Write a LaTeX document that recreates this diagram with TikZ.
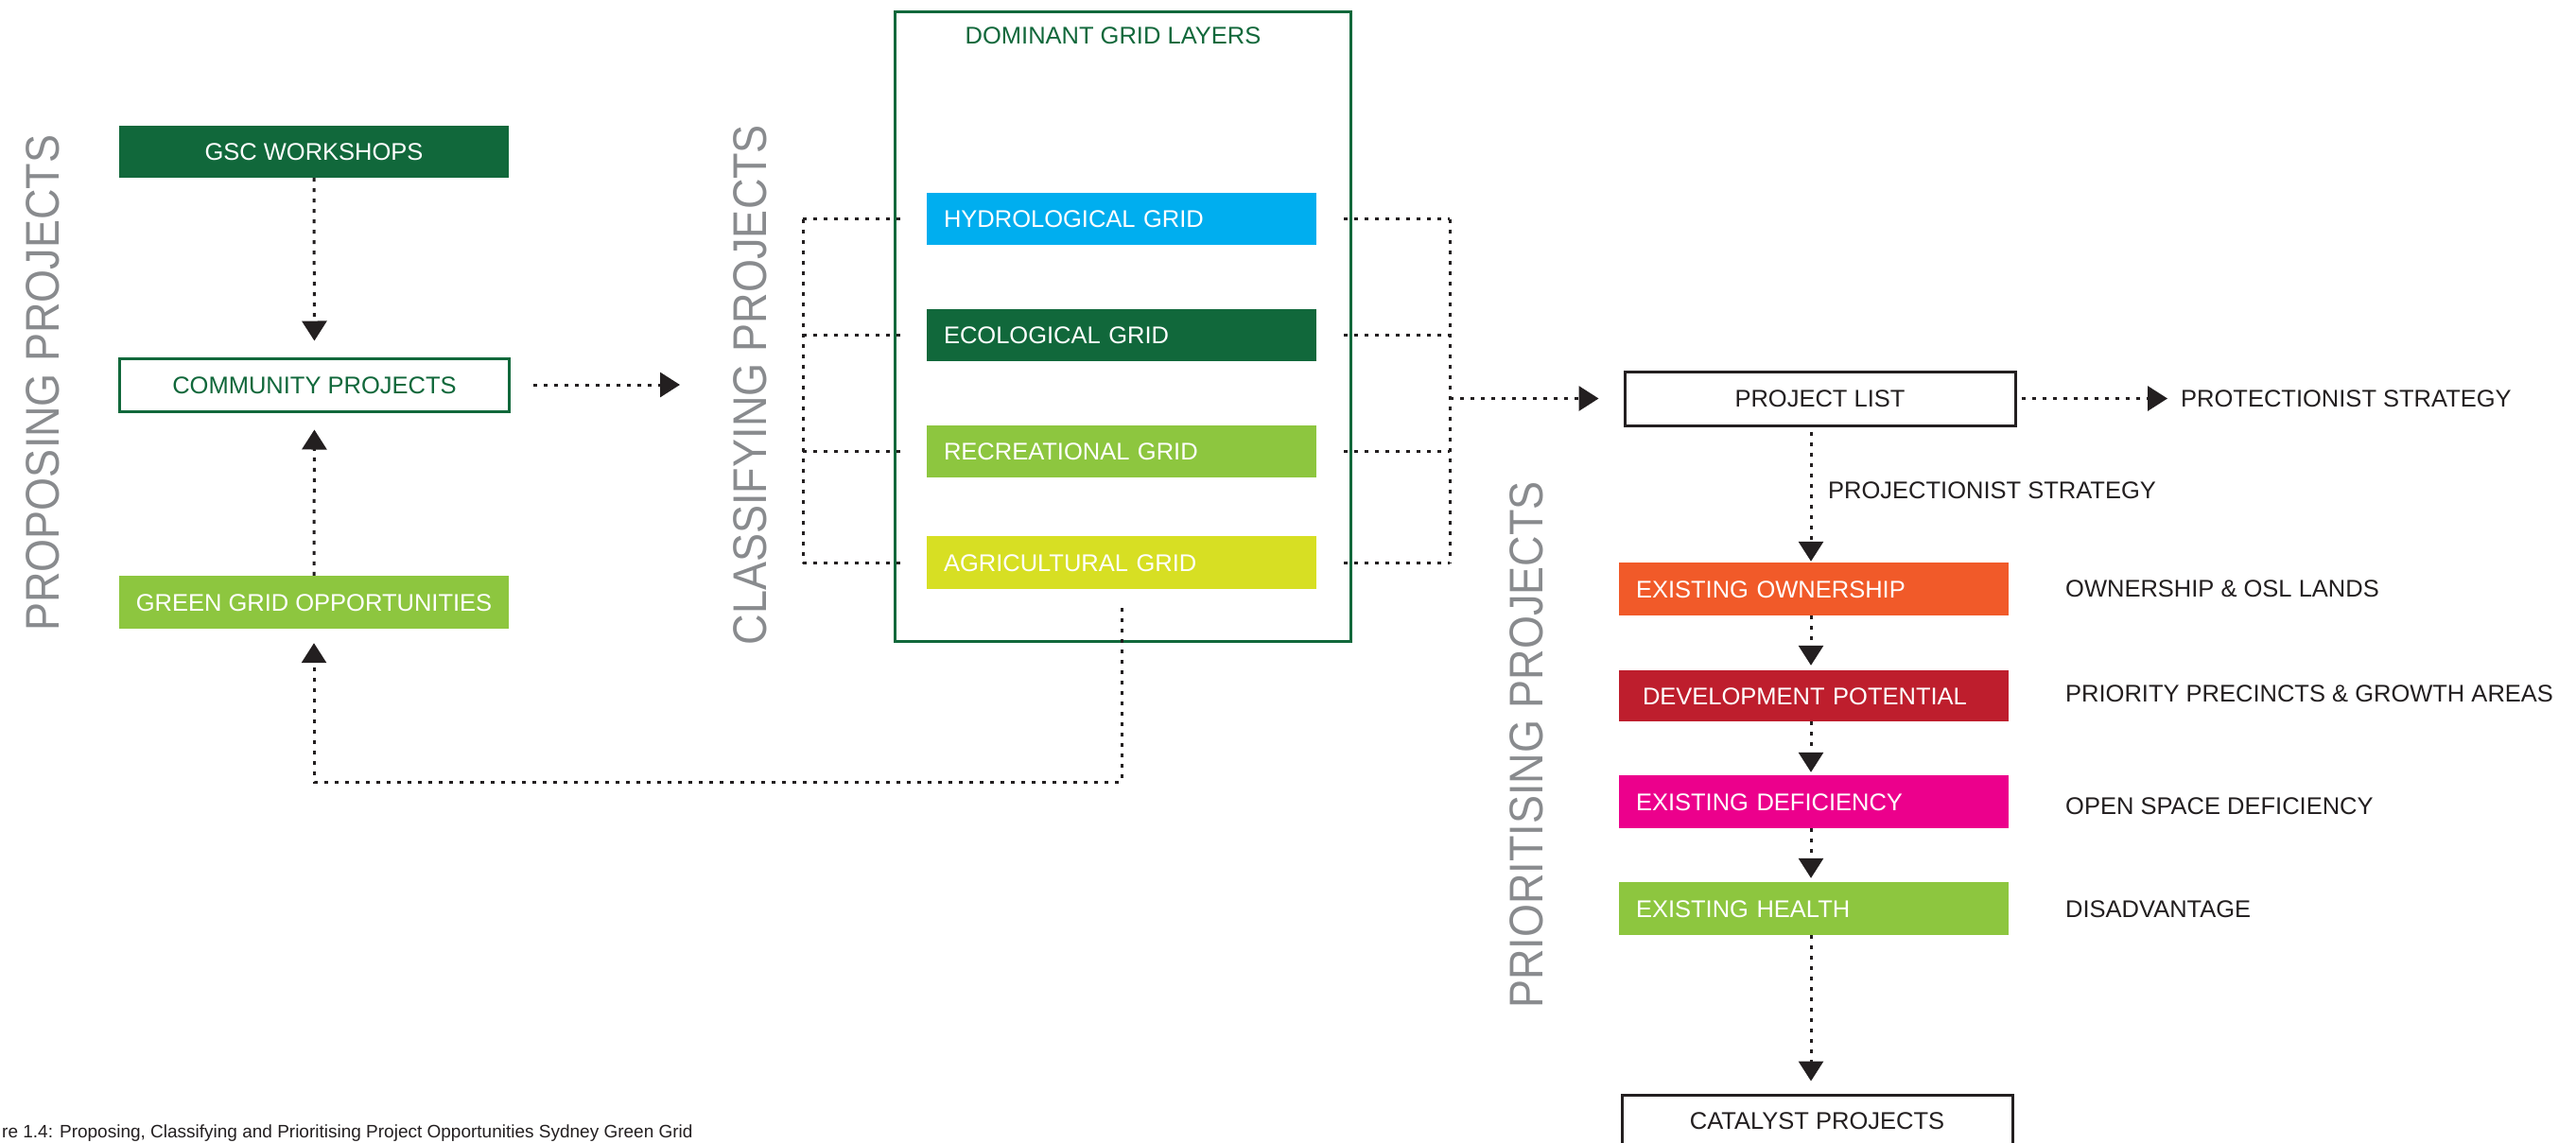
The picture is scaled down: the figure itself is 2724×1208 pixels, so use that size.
\documentclass[tikz,border=0pt]{standalone}
\usepackage{fontspec}
\setmainfont{Liberation Sans}
\newfontfamily\titlefont[FakeStretch=0.9]{Liberation Sans}
\usetikzlibrary{arrows.meta,calc}
\definecolor{dkgreen}{HTML}{11683B}
\definecolor{ltgreen}{HTML}{8DC63F}
\definecolor{hblue}{HTML}{00AEEF}
\definecolor{ygreen}{HTML}{D7DF23}
\definecolor{orng}{HTML}{F15A29}
\definecolor{dred}{HTML}{BE1E2D}
\definecolor{mgnt}{HTML}{EC008C}
\definecolor{titlegray}{HTML}{898B8E}
\definecolor{ink}{HTML}{231F20}
\tikzset{
  lbl/.style={font=\fontsize{25.5}{30}\selectfont, inner sep=0pt, text height=18.3pt, text depth=0pt},
  bar/.style={lbl, minimum height=55pt, text width=376pt, inner xsep=18pt, align=left, text=white},
  cbox/.style={lbl, minimum width=412pt, minimum height=55pt, align=center},
  vtitle/.style={rotate=90, font=\titlefont\fontsize{50}{56}\selectfont, text=titlegray, inner sep=0pt, text height=35.8pt, text depth=0pt},
  dots/.style={draw=ink, line width=3pt, dash pattern=on 4pt off 7pt},
  arr/.style={dots, -{Triangle[length=21pt,width=26pt]}, ink},
  desc/.style={lbl, anchor=west, text=ink}
}
\begin{document}
\begin{tikzpicture}[x=1pt,y=-1pt]
\useasboundingbox (0,0) rectangle (2724,1208);
\fill[white] (0,0) rectangle (2724,1208);

% section titles
\node[vtitle] (t1) at (45,405) {PROPOSING PROJECTS};
\node[vtitle] (t2) at (793,407) {CLASSIFYING PROJECTS};
\node[vtitle] (t3) at (1614,788) {PRIORITISING PROJECTS};

% proposing column
\node[cbox, fill=dkgreen, text=white] (gsc) at (332,160.5) {GSC WORKSHOPS};
\node[cbox, draw=dkgreen, line width=3pt, text=dkgreen, minimum height=56pt] (comm) at (332.5,407) {COMMUNITY PROJECTS};
\node[cbox, fill=ltgreen, text=white, minimum height=56pt] (ggo) at (332,637) {GREEN GRID OPPORTUNITIES};

\draw[arr, shorten >=17pt] (gsc.south) -- (comm.north);
\draw[arr, shorten >=18pt] (ggo.north) -- (comm.south);
\coordinate (c1) at (719,407);
\draw[arr, shorten <=24pt] (comm.east) -- (c1);

% dominant grid layers
\node[draw=dkgreen, line width=3pt, minimum width=482pt, minimum height=666pt, inner sep=0pt] (dom) at (1187,345) {};
\node[lbl, text=dkgreen] (domt) at (1177,37) {DOMINANT GRID LAYERS};
\node[bar, fill=hblue] (hyd) at (1186,231.5) {HYDROLOGICAL GRID};
\node[bar, fill=dkgreen] (eco) at (1186,354.5) {ECOLOGICAL GRID};
\node[bar, fill=ltgreen] (rec) at (1186,477) {RECREATIONAL GRID};
\node[bar, fill=ygreen, minimum height=56pt] (agr) at (1186,595) {AGRICULTURAL GRID};

\coordinate (bl) at (849,0);
\coordinate (br) at (1533,0);
\draw[dots] (hyd.west -| bl) -- (agr.west -| bl);
\foreach \n in {hyd,eco,rec,agr} \draw[dots, shorten >=22pt] (\n.west -| bl) -- (\n.west);
\draw[dots] (hyd.east -| br) -- (agr.east -| br);
\foreach \n in {hyd,eco,rec,agr} \draw[dots, shorten <=29pt] (\n.east) -- (\n.east -| br);

% loop back
\coordinate (lp) at (332,827);
\draw[arr, shorten <=20pt, shorten >=15pt] (agr.south) |- (lp) -- (ggo.south);

% prioritising column
\node[cbox, draw=ink, line width=3pt, text=ink, minimum width=413pt, minimum height=57pt] (plist) at (1924.5,421.5) {PROJECT LIST};
\draw[arr, shorten >=26pt] (plist.west -| br) -- (plist.west);
\node[desc] (prot) at (2306,421.5) {PROTECTIONIST STRATEGY};
\draw[arr, shorten <=5pt, shorten >=14pt] (plist.east) -- (prot.west);

\node[bar, fill=orng, minimum height=56pt] (own) at (1918,623) {EXISTING OWNERSHIP};
\node[bar, fill=dred, minimum height=54pt, inner xsep=25pt, text width=362pt] (dev) at (1918,736) {DEVELOPMENT POTENTIAL};
\node[bar, fill=mgnt, minimum height=56pt] (def) at (1918,848) {EXISTING DEFICIENCY};
\node[bar, fill=ltgreen, minimum height=56pt] (hea) at (1918,961) {EXISTING HEALTH};
\node[cbox, draw=ink, line width=3pt, text=ink, minimum width=413pt, minimum height=54pt] (cat) at (1921.5,1185) {CATALYST PROJECTS};

\coordinate (vx) at (1915,0);
\draw[arr, shorten <=5pt, shorten >=1pt] (vx |- plist.south) -- (vx |- own.north);
\draw[arr, shorten >=5pt] (vx |- own.south) -- (vx |- dev.north);
\draw[arr, shorten >=3pt] (vx |- dev.south) -- (vx |- def.north);
\draw[arr, shorten >=4pt] (vx |- def.south) -- (vx |- hea.north);
\draw[arr, shorten >=13pt] (vx |- hea.south) -- (vx |- cat.north);

\node[desc] (pstr) at (1933,518) {PROJECTIONIST STRATEGY};
\node[desc] (d1) at (2184,622) {OWNERSHIP \& OSL LANDS};
\node[desc] (d2) at (2184,733.5) {PRIORITY PRECINCTS \& GROWTH AREAS};
\node[desc] (d3) at (2184,852) {OPEN SPACE DEFICIENCY};
\node[desc] (d4) at (2184,961) {DISADVANTAGE};

% caption
\node[anchor=base west, inner sep=0pt, text=ink, font=\fontsize{19}{22}\selectfont] (cap) at (2,1203) {re 1.4: Proposing, Classifying and Prioritising Project Opportunities Sydney Green Grid};
\end{tikzpicture}
\end{document}
